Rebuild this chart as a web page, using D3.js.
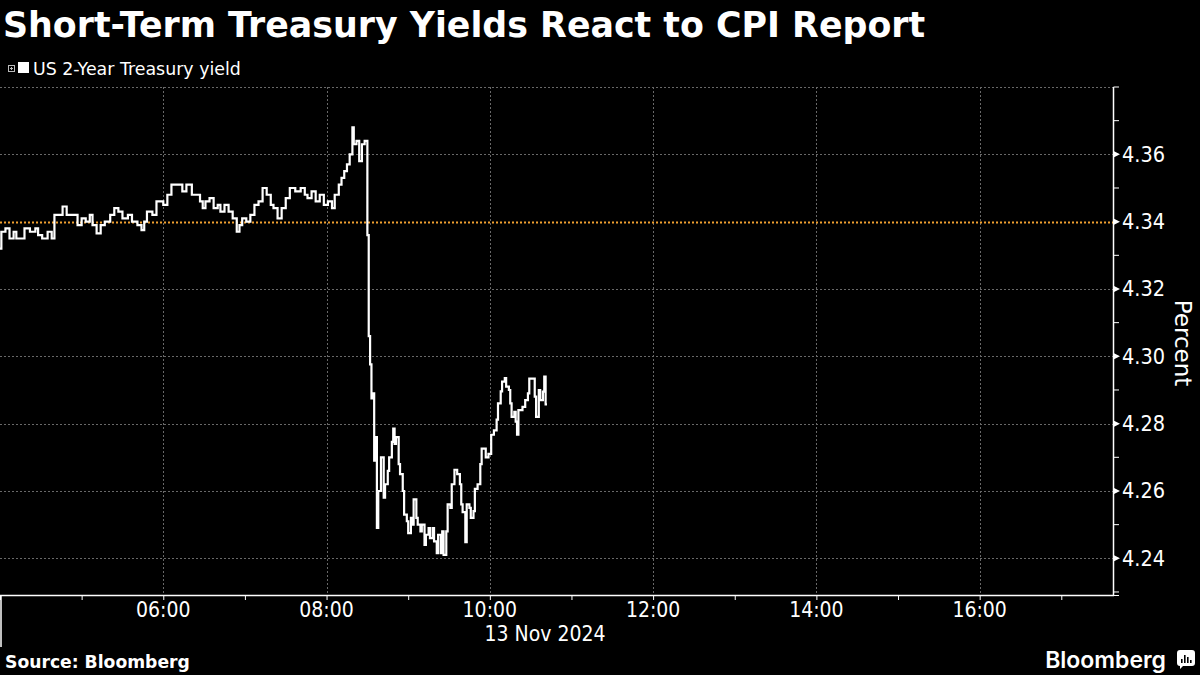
<!DOCTYPE html>
<html>
<head>
<meta charset="utf-8">
<script src="https://cdn.jsdelivr.net/npm/d3@7"></script>
<style>
  html, body { margin: 0; padding: 0; background: #000; }
  svg { display: block; }
  text { fill: #fff; }
</style>
</head>
<body>
<svg id="chart" width="1200" height="675"></svg>
<script>
// ---------------- data ----------------
const titleText = "Short-Term Treasury Yields React to CPI Report";
const seriesName = "US 2-Year Treasury yield";
const sourceText = "Source: Bloomberg";
const dateLabel = "13 Nov 2024";
const dayStr = "2024-11-13";
const axisTitle = "Percent";
const referenceLevel = 4.34;
const yTickValues = [4.24, 4.26, 4.28, 4.30, 4.32, 4.34, 4.36];
const xTickLabels = ["06:00", "08:00", "10:00", "12:00", "14:00", "16:00"];
const xDomain = ["04:00", "17:38"];
const yDomain = [4.2291, 4.38];

const times = [
 "04:00","04:01","04:04","04:07","04:10","04:12","04:18","04:22","04:26","04:28",
 "04:31","04:35","04:38","04:40","04:46","04:49","04:57","05:00","05:03","05:06",
 "05:08","05:11","05:14","05:17","05:21","05:24","05:27","05:30","05:34","05:37",
 "05:41","05:44","05:46","05:48","05:52","05:55","06:00","06:03","06:06","06:11",
 "06:14","06:17","06:21","06:24","06:27","06:29","06:31","06:34","06:37","06:40",
 "06:42","06:45","06:48","06:51","06:54","06:56","06:58","07:01","07:04","07:07",
 "07:10","07:13","07:16","07:19","07:21","07:24","07:27","07:30","07:33","07:37",
 "07:41","07:44","07:46","07:49","07:52","07:55","07:58","08:01","08:04","08:06",
 "08:09","08:11","08:13","08:15","08:17","08:19","08:20","08:22","08:24","08:26",
 "08:28","08:30","08:31","08:32","08:33","08:34","08:35","08:36","08:37","08:38",
 "08:40","08:42","08:43","08:45","08:46","08:48","08:49","08:50","08:51","08:53",
 "08:54","08:56","08:57","08:59","09:00","09:02","09:03","09:04","09:06","09:07",
 "09:09","09:10","09:12","09:13","09:15","09:16","09:18","09:19","09:21","09:22",
 "09:24","09:25","09:26","09:28","09:29","09:31","09:32","09:34","09:36","09:38",
 "09:39","09:40","09:42","09:43","09:45","09:46","09:48","09:49","09:51","09:53",
 "09:54","09:57","09:59","10:01","10:03","10:05","10:06","10:08","10:09","10:11",
 "10:12","10:14","10:15","10:16","10:18","10:19","10:20","10:21","10:24","10:26",
 "10:28","10:29","10:31","10:33","10:34","10:36","10:37","10:39","10:40","10:41",
 "10:42"
];
const yields = [
 4.332,4.337,4.338,4.335,4.337,4.335,4.338,4.337,4.338,4.336,
 4.335,4.337,4.335,4.342,4.3445,4.342,4.339,4.341,4.340,4.342,
 4.339,4.3365,4.339,4.340,4.342,4.344,4.343,4.341,4.342,4.340,
 4.339,4.3375,4.340,4.343,4.342,4.346,4.345,4.348,4.351,4.351,
 4.349,4.351,4.348,4.348,4.346,4.344,4.346,4.347,4.344,4.345,
 4.343,4.345,4.343,4.341,4.337,4.339,4.341,4.340,4.342,4.345,
 4.346,4.350,4.348,4.345,4.344,4.341,4.344,4.347,4.350,4.349,
 4.350,4.348,4.347,4.349,4.346,4.348,4.345,4.346,4.344,4.348,
 4.351,4.353,4.355,4.357,4.360,4.368,4.363,4.364,4.358,4.363,
 4.364,4.336,4.306,4.2976,4.2875,4.289,4.269,4.276,4.249,4.260,
 4.270,4.258,4.262,4.266,4.270,4.2746,4.2785,4.274,4.276,4.268,
 4.265,4.260,4.253,4.251,4.2475,4.252,4.250,4.2575,4.252,4.250,
 4.248,4.250,4.244,4.247,4.249,4.246,4.249,4.245,4.2415,4.247,
 4.2415,4.248,4.241,4.248,4.256,4.255,4.262,4.2663,4.265,4.262,
 4.256,4.2537,4.2448,4.256,4.255,4.252,4.254,4.2606,4.262,4.268,
 4.2726,4.270,4.271,4.2767,4.278,4.2812,4.286,4.2896,4.2925,4.2935,
 4.291,4.290,4.286,4.282,4.2835,4.2806,4.2767,4.284,4.285,4.287,
 4.289,4.2934,4.2934,4.288,4.282,4.290,4.287,4.2895,4.294,4.2857,
 4.2857
];

// ---------------- setup ----------------
const svg = d3.select("#chart");
const parseT = d3.timeParse("%Y-%m-%d %H:%M");
const toDate = t => parseT(dayStr + " " + t);
const data = times.map((t, i) => ({ t: toDate(t), v: yields[i] }));

const plot = { left: 0, right: 1113, top: 87, bottom: 595 };
const x = d3.scaleTime().domain(xDomain.map(toDate)).range([plot.left, plot.right]);
const y = d3.scaleLinear().domain(yDomain).range([plot.bottom, plot.top]);

const labelFont = "'DejaVu Sans Condensed', 'DejaVu Sans', sans-serif";
const gridColor = "#686868";

// ---------------- title & legend ----------------
svg.append("text").attr("x", 3).attr("y", 37)
  .attr("font-family", "'DejaVu Sans', sans-serif").attr("font-weight", "bold")
  .attr("font-size", 34.8).text(titleText);

const lg = svg.append("g");
lg.append("rect").attr("x", 8.5).attr("y", 65.5).attr("width", 6).attr("height", 6)
  .attr("fill", "none").attr("stroke", "#bbb").attr("stroke-width", 1);
lg.append("path").attr("d", "M10,68.5H13M11.5,67V70").attr("stroke", "#bbb").attr("stroke-width", 1);
lg.append("rect").attr("x", 18).attr("y", 62).attr("width", 11).attr("height", 11).attr("fill", "#fff");
lg.append("text").attr("x", 33).attr("y", 75)
  .attr("font-family", "'DejaVu Sans', sans-serif").attr("font-size", 17.4).text(seriesName);

// ---------------- grid ----------------
const gridYVals = d3.range(4.24, 4.3801, 0.02).map(v => +v.toFixed(2));
svg.append("g").selectAll("line").data(gridYVals.filter(v => v !== referenceLevel)).join("line")
  .attr("x1", plot.left).attr("x2", plot.right)
  .attr("y1", d => Math.round(y(d)) + 0.5).attr("y2", d => Math.round(y(d)) + 0.5)
  .attr("stroke", gridColor).attr("stroke-width", 1).attr("stroke-dasharray", "2,2");

const gridXVals = xTickLabels.map(toDate);
svg.append("g").selectAll("line").data(gridXVals).join("line")
  .attr("x1", d => Math.round(x(d)) + 0.5).attr("x2", d => Math.round(x(d)) + 0.5)
  .attr("y1", plot.top).attr("y2", plot.bottom)
  .attr("stroke", gridColor).attr("stroke-width", 1).attr("stroke-dasharray", "2,2");

// reference line
svg.append("line")
  .attr("x1", plot.left).attr("x2", plot.right)
  .attr("y1", Math.round(y(referenceLevel)) + 0.5).attr("y2", Math.round(y(referenceLevel)) + 0.5)
  .attr("stroke", "#f0a030").attr("stroke-width", 2).attr("stroke-dasharray", "2,2");

// ---------------- series ----------------
const line = d3.line().x(d => x(d.t)).y(d => y(d.v)).curve(d3.curveStepAfter);
svg.append("path").datum(data).attr("d", line)
  .attr("fill", "none").attr("stroke", "#fff").attr("stroke-width", 2.2)
  .attr("stroke-linejoin", "miter");

// ---------------- x axis ----------------
const xAxisG = svg.append("g").attr("transform", `translate(0,${plot.bottom})`);
const xAxis = d3.axisBottom(x)
  .tickValues(d3.timeHour.every(1).range(toDate("04:00"), toDate("17:38")))
  .tickSize(5).tickFormat("");
xAxisG.call(xAxis);
xAxisG.select(".domain").remove();
xAxisG.selectAll(".tick line").attr("stroke", "#fff").attr("stroke-width", 1);
xAxisG.append("line").attr("x1", plot.left).attr("x2", plot.right + 1).attr("y1", 0.5).attr("y2", 0.5)
  .attr("stroke", "#fff").attr("stroke-width", 1.5);
// day separator
xAxisG.append("line").attr("x1", 1).attr("x2", 1).attr("y1", 0).attr("y2", 52)
  .attr("stroke", "#fff").attr("stroke-width", 1.5);
// labels
xAxisG.selectAll(".xlab").data(xTickLabels).join("text").attr("class", "xlab")
  .attr("x", d => x(toDate(d))).attr("y", 22)
  .attr("text-anchor", "middle").attr("font-family", labelFont).attr("font-size", 21)
  .text(d => d);
xAxisG.append("text").attr("x", 545).attr("y", 46).attr("text-anchor", "middle")
  .attr("font-family", labelFont).attr("font-size", 21).text(dateLabel);

// ---------------- y axis ----------------
const yAxisG = svg.append("g").attr("transform", `translate(${plot.right},0)`);
yAxisG.append("line").attr("x1", 0.5).attr("x2", 0.5).attr("y1", plot.top).attr("y2", plot.bottom + 1)
  .attr("stroke", "#fff").attr("stroke-width", 1.5);
const minorY = d3.range(4.23, 4.3801, 0.01).map(v => +v.toFixed(2)).filter(v => !yTickValues.includes(v));
yAxisG.selectAll(".minor").data(minorY).join("line").attr("class", "minor")
  .attr("x1", 0.5).attr("x2", 6).attr("y1", d => y(d)).attr("y2", d => y(d))
  .attr("stroke", "#fff").attr("stroke-width", 1);
yAxisG.append("line").attr("x1", 0.5).attr("x2", 6).attr("y1", plot.bottom + 0.5).attr("y2", plot.bottom + 0.5)
  .attr("stroke", "#fff").attr("stroke-width", 1);
yAxisG.selectAll(".major").data(yTickValues).join("path").attr("class", "major")
  .attr("d", d => `M0,${y(d) - 3.5}L7,${y(d)}L0,${y(d) + 3.5}Z`).attr("fill", "#fff");
yAxisG.selectAll(".ylab").data(yTickValues).join("text").attr("class", "ylab")
  .attr("x", 9).attr("y", d => y(d) + 7.5)
  .attr("font-family", labelFont).attr("font-size", 21.5)
  .text(d => d.toFixed(2));
svg.append("text").attr("transform", "translate(1175,343) rotate(90)")
  .attr("text-anchor", "middle").attr("font-family", "'DejaVu Sans', sans-serif").attr("font-size", 23)
  .text(axisTitle);

// ---------------- footer ----------------
svg.append("text").attr("x", 5).attr("y", 668)
  .attr("font-family", "'DejaVu Sans', sans-serif").attr("font-weight", "bold").attr("font-size", 17.2)
  .text(sourceText);
svg.append("text").attr("x", 1166).attr("y", 668).attr("text-anchor", "end")
  .attr("font-family", "Inter, 'Open Sans', sans-serif").attr("font-weight", 600).attr("font-size", 23)
  .text("Bloomberg");
const logo = svg.append("g").attr("transform", "translate(1177,650)");
logo.append("path").attr("d", "M3,0H15Q18,0 18,3V13Q18,16 15,16H6L3,19V16Q0,16 0,13V3Q0,0 3,0Z").attr("fill", "#fff");
[[4, 9, 4], [7, 5, 8], [10, 7, 6], [13, 10, 3]].forEach(([bx, by, bh]) =>
  logo.append("rect").attr("x", bx).attr("y", by).attr("width", 1.6).attr("height", bh).attr("fill", "#000"));
</script>
</body>
</html>
